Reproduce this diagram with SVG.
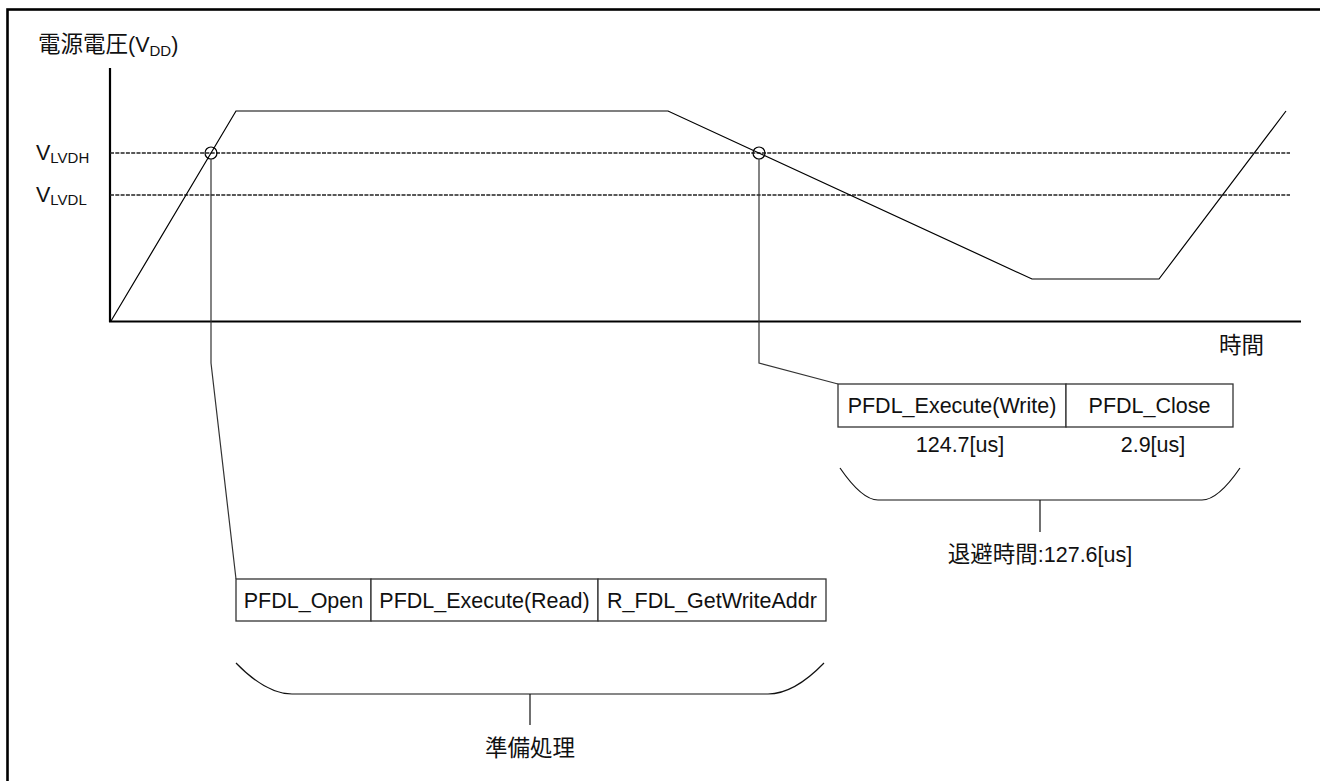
<svg xmlns="http://www.w3.org/2000/svg" width="1320" height="781" viewBox="0 0 1320 781">
<style>
.t{font-family:"Liberation Sans","Noto Sans CJK JP",sans-serif;font-size:21.5px;fill:#111}
.j{font-family:"Noto Sans CJK JP",sans-serif;font-size:22.5px}
.s{font-size:15px}
.ax{stroke:#000;stroke-width:2.2;fill:none}
.dash{stroke:#222;stroke-width:1.3;stroke-dasharray:4 1.3;fill:none}
.curve{stroke:#000;stroke-width:1.2;fill:none}
.conn{stroke:#333;stroke-width:1.2;fill:none}
.box{stroke:#333;stroke-width:1.3;fill:#fff}
.br{stroke:#111;stroke-width:1.2;fill:none}
</style>
<rect x="7.5" y="9.5" width="2000" height="2000" fill="#fff" stroke="#000" stroke-width="2.6"/>

<g id="axes">
<line class="ax" x1="110" y1="68" x2="110" y2="322"/>
<line class="ax" x1="109" y1="321.5" x2="1301" y2="321.5"/>
<text class="t" x="38" y="52"><tspan class="j">電源電圧</tspan>(V<tspan class="s" font-size="14" dy="4">DD</tspan><tspan dy="-4">)</tspan></text>
<text class="t" x="1219" y="352.5"><tspan class="j">時間</tspan></text>
</g>

<g id="thresholds">
<line class="dash" x1="110" y1="153" x2="1290" y2="153"/>
<line class="dash" x1="110" y1="195" x2="1290" y2="195"/>
<text class="t" x="36" y="160">V<tspan class="s" dy="3">LVDH</tspan></text>
<text class="t" x="36" y="202">V<tspan class="s" dy="3">LVDL</tspan></text>
</g>

<g id="vdd-curve">
<polyline class="curve" points="111,321 236,111 668,111 1032,279 1159,279 1286,111"/>
<circle class="curve" cx="211" cy="153" r="6"/>
<circle class="curve" cx="759" cy="153" r="6"/>
</g>

<g id="connectors">
<polyline class="conn" points="211,159 211,363 236,579"/>
<polyline class="conn" points="759,159 759,363 838,384"/>
</g>

<g id="write-sequence">
<rect class="box" x="838" y="384" width="228" height="43"/>
<rect class="box" x="1066" y="384" width="167" height="43"/>
<text class="t" x="952" y="412.5" text-anchor="middle">PFDL_Execute(Write)</text>
<text class="t" x="1149.5" y="412.5" text-anchor="middle">PFDL_Close</text>
<text class="t" x="960" y="451.5" text-anchor="middle">124.7[us]</text>
<text class="t" x="1153" y="451.5" text-anchor="middle">2.9[us]</text>
<path class="br" d="M840,468 Q862,500 878,500 L1202,500 Q1218,500 1240,468"/>
<line class="br" x1="1040" y1="500" x2="1040" y2="532"/>
<text class="t" x="1040" y="562" text-anchor="middle"><tspan class="j">退避時間</tspan>:127.6[us]</text>
</g>

<g id="prepare-sequence">
<rect class="box" x="236" y="579" width="135" height="42"/>
<rect class="box" x="371" y="579" width="227" height="42"/>
<rect class="box" x="598" y="579" width="228" height="42"/>
<text class="t" x="303.5" y="607.5" text-anchor="middle">PFDL_Open</text>
<text class="t" x="484.5" y="607.5" text-anchor="middle">PFDL_Execute(Read)</text>
<text class="t" x="712" y="607.5" text-anchor="middle">R_FDL_GetWriteAddr</text>
<path class="br" d="M236,663 Q266,694 292,694 L768,694 Q794,694 824,663"/>
<line class="br" x1="530" y1="694" x2="530" y2="725"/>
<text class="t" x="530" y="756" text-anchor="middle"><tspan class="j">準備処理</tspan></text>
</g>
</svg>
